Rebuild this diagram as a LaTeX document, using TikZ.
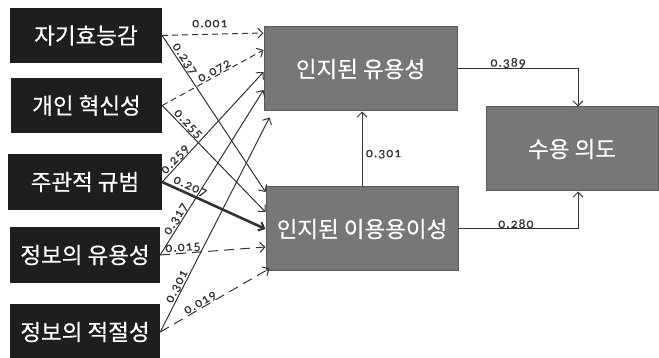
\documentclass[tikz,border=0pt]{standalone}
\usepackage{fontspec}
\usetikzlibrary{arrows.meta}
\newfontfamily\kr[FakeBold=0.4]{Noto Sans CJK KR}
\newfontfamily\labfont[Numbers=OldStyle,LetterSpace=8,FakeBold=0.3]{Carlito}
\definecolor{blackbox}{HTML}{1E1E1E}
\definecolor{graybox}{HTML}{777777}
\definecolor{grayedge}{HTML}{5A5A5A}
\definecolor{linec}{HTML}{333333}
\tikzset{
  x=1pt, y=-1pt,
  leftbox/.style={fill=blackbox, draw=none, text=white, font=\kr\fontsize{22.5}{26}\selectfont, inner sep=0pt},
  midbox/.style={fill=graybox, draw=grayedge, line width=1pt, text=white, font=\kr\fontsize{22.5}{26}\selectfont, inner sep=0pt, minimum height=84pt},
  conn/.style={draw=linec, line width=1pt, -{Straight Barb[length=5pt,width=10pt,line width=1pt]}},
  dashA/.style={dash pattern=on 6pt off 4pt},
  dashB/.style={dash pattern=on 10pt off 6pt},
  thickconn/.style={draw=linec, line width=2.6pt, -{Straight Barb[length=5pt,width=9pt,line width=2pt]}},
  lab/.style={font=\labfont\fontsize{13.5}{14}\selectfont, text=linec, inner sep=0.5pt},
}
\begin{document}
\begin{tikzpicture}
\useasboundingbox (0,0) rectangle (659,358);
% left boxes
\node[leftbox, minimum width=152pt, minimum height=55pt] (b1) at (86,35.5) {자기효능감};
\node[leftbox, minimum width=151pt, minimum height=55pt] (b2) at (86.5,105.5) {개인 혁신성};
\node[leftbox, minimum width=154pt, minimum height=56pt] (b3) at (85,182) {주관적 규범};
\node[leftbox, minimum width=150pt, minimum height=56pt] (b4) at (85,255) {정보의 유용성};
\node[leftbox, minimum width=150pt, minimum height=56pt] (b5) at (85,332) {정보의 적절성};
% middle/right boxes
\node[midbox, minimum width=193pt] (pu) at (360.5,69) {인지된 유용성};
\node[midbox, minimum width=192pt] (peou) at (362,229) {인지된 이용용이성};
\node[midbox, minimum width=172pt] (acc) at (572,149) {수용 의도};
\coordinate (pu5) at ([xshift=6pt,yshift=-6pt]pu.south west);
% arrows to perceived usefulness
\draw[conn, dashA] (b1.east) -- node[lab, pos=0.47, above=6pt] {0.001} ([yshift=36pt]pu.west);
\draw[conn, dashA] (b2.east) -- node[lab, pos=0.54, sloped, above, inner sep=0pt] {0.072} ([yshift=19pt]pu.west);
\draw[conn] (b3.east) -- node[lab, pos=0.17, sloped, above] {0.259} ([yshift=-3pt]pu.west);
\draw[conn] (b4.east) -- node[lab, pos=0.2, sloped, above] {0.317} ([yshift=-21pt]pu.west);
\draw[conn] (b5.east) -- node[lab, pos=0.2, sloped, above] {0.301} (pu5);
% arrows to perceived ease of use
\draw[conn] (b1.east) -- node[lab, pos=0.17, sloped, above] {0.237} ([yshift=37pt]peou.west);
\draw[conn] (b2.east) -- node[lab, pos=0.21, sloped, above] {0.255} ([yshift=17pt]peou.west);
\draw[thickconn] (b3.east) -- node[lab, pos=0.24, sloped, above=1pt] {0.207} ([yshift=0pt]peou.west);
\draw[conn, dashB] (b4.east) -- node[lab, pos=0.22, sloped, above] {0.015} ([yshift=-18pt]peou.west);
\draw[conn, dashB] (b5.east) -- node[lab, pos=0.39, sloped, above, inner sep=0pt] {0.019} ([xshift=4pt,yshift=3pt]peou.south west);
% between mediators and outcome
\draw[conn] (peou.north) -- node[lab, pos=0.43, right=3pt] {0.301} (peou.north |- pu.south);
\draw[conn] (pu.east) -| node[lab, pos=0.21, above] {0.389} ([xshift=6pt]acc.north);
\draw[conn] (peou.east) -| node[lab, pos=0.24, above] {0.280} ([xshift=6pt]acc.south);
\end{tikzpicture}
\end{document}
